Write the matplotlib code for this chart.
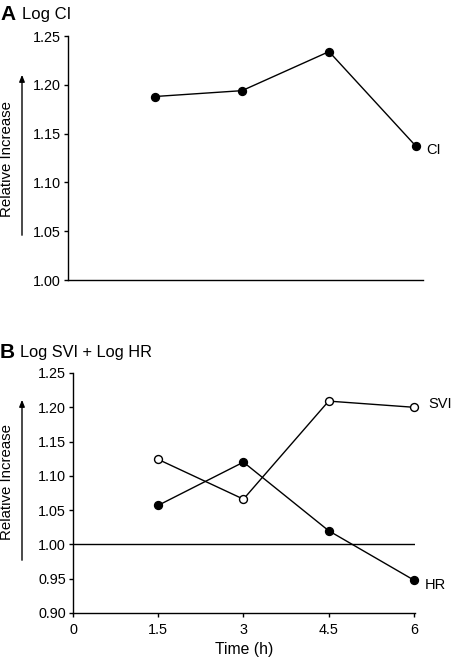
import matplotlib
matplotlib.use("Agg")
import matplotlib.pyplot as plt

plt.rcParams["font.family"] = ["Liberation Sans", "DejaVu Sans"]

# data
times = [1.5, 3, 4.5, 6]
ci = [1.188, 1.194, 1.234, 1.137]
svi = [1.124, 1.066, 1.209, 1.200]
hr = [1.057, 1.120, 1.020, 0.948]

yticks_a = [1.00, 1.05, 1.10, 1.15, 1.20, 1.25]
yticks_b = [0.90, 0.95, 1.00, 1.05, 1.10, 1.15, 1.20, 1.25]
xticks_b = [0, 1.5, 3, 4.5, 6]
xtick_labels_b = ["0", "1.5", "3", "4.5", "6"]

W, H = 452, 658
fig = plt.figure(figsize=(W / 100, H / 100), dpi=100)


def px_axes(left, top, right, bottom):
    return fig.add_axes([left / W, 1 - bottom / H, (right - left) / W, (bottom - top) / H])


def style(ax):
    for s in ("top", "right"):
        ax.spines[s].set_visible(False)
    for s in ("left", "bottom"):
        ax.spines[s].set_linewidth(1.0)
    ax.tick_params(direction="out", length=3, width=1.0, labelsize=10.4, pad=2)


# panel A
ax1 = px_axes(68, 36, 423, 280)
style(ax1)
ax1.plot(times, ci, "-o", color="black", lw=1.0, ms=5.7, mfc="black", mec="black",
         clip_on=False)
ax1.set_xlim(0, 6.12)
ax1.set_ylim(1.00, 1.25)
ax1.set_yticks(yticks_a)
ax1.set_yticklabels([f"{v:.2f}" for v in yticks_a])
ax1.set_xticks([])
ax1.text(6.17, ci[-1] - 0.004, "CI", fontsize=10.5, va="center", ha="left")

# panel B
ax2 = px_axes(73, 373, 415, 613)
style(ax2)
ax2.axhline(1.0, xmin=0, xmax=6 / 6.02, color="black", lw=1.0)
ax2.plot(times, svi, "-o", color="black", lw=1.0, ms=5.7, mfc="white", mec="black",
         clip_on=False)
ax2.plot(times, hr, "-o", color="black", lw=1.0, ms=5.7, mfc="black", mec="black",
         clip_on=False)
ax2.set_xlim(0, 6.02)
ax2.set_ylim(0.90, 1.25)
ax2.set_yticks(yticks_b)
ax2.set_yticklabels([f"{v:.2f}" for v in yticks_b])
ax2.set_xticks(xticks_b)
ax2.set_xticklabels(xtick_labels_b)
ax2.tick_params(axis="x", pad=4)
ax2.set_xlabel("Time (h)", fontsize=11.3, labelpad=4)
ax2.text(6.25, svi[-1] + 0.005, "SVI", fontsize=10.5, va="center", ha="left")
ax2.text(6.2, hr[-1] - 0.007, "HR", fontsize=10.5, va="center", ha="left")

# panel titles
fig.text(0 / W, 1 - 14 / H, "A", fontsize=15, fontweight="bold", va="center", ha="left")
fig.text(22 / W, 1 - 14 / H, "Log CI", fontsize=12, va="center", ha="left")
fig.text(0 / W, 1 - 352 / H, "B", fontsize=15, fontweight="bold", va="center", ha="left")
fig.text(20 / W, 1 - 353 / H, "Log SVI + Log HR", fontsize=11.8, va="center", ha="left")

# y labels with arrows
for cy, y0, y1 in [(159, 238, 72), (482, 563, 397)]:
    fig.text(7 / W, 1 - cy / H, "Relative Increase", fontsize=10.8, rotation=90,
             va="center", ha="center")
    fig.add_artist(matplotlib.patches.FancyArrowPatch(
        (22 / W, 1 - y0 / H), (22 / W, 1 - y1 / H), transform=fig.transFigure,
        arrowstyle="-|>,head_length=4,head_width=1.6", color="black", lw=1.0,
        mutation_scale=1))

fig.savefig("out.png", dpi=100)
